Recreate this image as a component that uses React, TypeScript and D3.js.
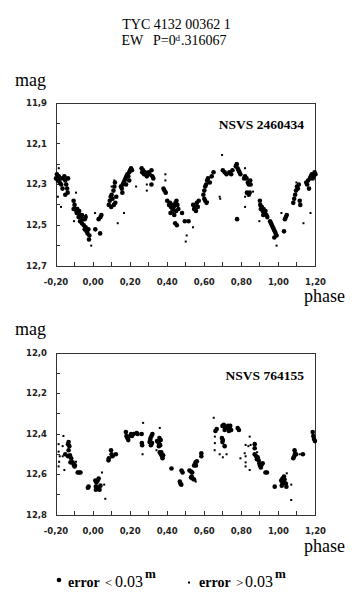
import React from "react";
import * as d3 from "d3";

// ---------- DATA ----------
const titleLine1 = "TYC 4132 00362 1";
const titleType = "EW";
const periodText = ["P=0", "d", ".316067"];
const topLabel = "NSVS 2460434";
const bottomLabel = "NSVS 764155";
const xTickLabels = [-0.2, 0, 0.2, 0.4, 0.6, 0.8, 1.0, 1.2];
const topYTickLabels = [11.9, 12.1, 12.3, 12.5, 12.7];
const bottomYTickLabels = [12.0, 12.2, 12.4, 12.6, 12.8];

// top panel, error < 0.03m  [phase, mag]
const topLarge: [number, number][] = [
  [-0.2, 12.27], [-0.195, 12.25], [-0.19, 12.28], [-0.185, 12.26], [-0.18, 12.29], [-0.175, 12.27], [-0.172, 12.3],
  [-0.16, 12.27], [-0.155, 12.26], [-0.15, 12.28], [-0.145, 12.3], [-0.14, 12.32], [-0.137, 12.34], [-0.15, 12.35], [-0.165, 12.32], [-0.135, 12.27],
  [-0.105, 12.38], [-0.1, 12.4], [-0.105, 12.42], [-0.095, 12.42], [-0.09, 12.43], [-0.085, 12.42], [-0.08, 12.44], [-0.075, 12.43], [-0.07, 12.45], [-0.078, 12.46], [-0.088, 12.44], [-0.065, 12.46],
  [-0.06, 12.45], [-0.055, 12.47], [-0.07, 12.48], [-0.06, 12.49], [-0.05, 12.5], [-0.045, 12.52], [-0.04, 12.51], [-0.035, 12.53], [-0.03, 12.54], [-0.025, 12.52], [-0.02, 12.55], [-0.022, 12.57],
  [-0.04, 12.46], [-0.045, 12.47],
  [0.012, 12.52], [0.038, 12.54],
  [0.03, 12.47], [0.04, 12.46], [0.045, 12.45],
  [0.085, 12.4], [0.09, 12.38], [0.095, 12.36], [0.1, 12.35], [0.105, 12.37], [0.11, 12.33], [0.115, 12.31], [0.118, 12.29], [0.112, 12.4], [0.12, 12.39], [0.125, 12.36], [0.098, 12.41],
  [0.15, 12.31], [0.155, 12.32], [0.16, 12.3], [0.165, 12.29], [0.17, 12.28], [0.175, 12.27], [0.18, 12.26], [0.185, 12.25], [0.19, 12.26], [0.195, 12.24], [0.2, 12.23], [0.205, 12.22], [0.21, 12.23], [0.158, 12.34], [0.178, 12.3], [0.195, 12.28],
  [0.262, 12.22], [0.27, 12.23], [0.275, 12.25], [0.265, 12.24],
  [0.28, 12.24], [0.285, 12.25], [0.29, 12.26], [0.3, 12.24], [0.305, 12.25], [0.315, 12.23], [0.32, 12.26], [0.325, 12.27], [0.315, 12.3],
  [0.38, 12.32], [0.385, 12.33], [0.392, 12.34],
  [0.4, 12.38], [0.41, 12.4], [0.415, 12.39], [0.42, 12.41], [0.425, 12.4], [0.43, 12.42], [0.435, 12.41], [0.44, 12.4], [0.445, 12.39], [0.45, 12.38], [0.455, 12.4], [0.46, 12.42], [0.418, 12.44], [0.428, 12.43], [0.438, 12.45], [0.448, 12.43],
  [0.443, 12.49], [0.452, 12.5], [0.48, 12.44], [0.495, 12.48], [0.515, 12.48],
  [0.54, 12.4], [0.545, 12.42], [0.55, 12.41], [0.555, 12.43], [0.56, 12.39], [0.565, 12.41], [0.57, 12.38],
  [0.595, 12.35], [0.6, 12.33], [0.605, 12.31], [0.61, 12.3], [0.615, 12.28], [0.62, 12.27], [0.63, 12.29], [0.64, 12.26], [0.65, 12.24], [0.6, 12.37], [0.605, 12.38], [0.612, 12.39],
  [0.7, 12.23], [0.71, 12.24], [0.72, 12.25],
  [0.735, 12.24], [0.745, 12.25], [0.752, 12.23],
  [0.77, 12.21], [0.775, 12.2], [0.78, 12.22], [0.785, 12.23], [0.79, 12.24], [0.795, 12.25],
  [0.815, 12.27], [0.82, 12.26], [0.828, 12.27], [0.835, 12.29], [0.84, 12.3], [0.848, 12.28], [0.85, 12.3],
  [0.83, 12.34], [0.84, 12.35], [0.845, 12.34],
  [0.777, 12.47],
  [0.9, 12.38], [0.902, 12.4], [0.905, 12.42], [0.91, 12.41], [0.915, 12.43], [0.92, 12.42], [0.925, 12.44], [0.93, 12.43], [0.935, 12.45], [0.918, 12.45], [0.94, 12.46],
  [0.955, 12.48], [0.96, 12.49], [0.965, 12.5], [0.97, 12.51], [0.975, 12.52], [0.98, 12.53], [0.985, 12.54], [0.978, 12.56], [0.99, 12.55],
  [1.03, 12.53], [1.04, 12.46], [1.045, 12.45], [1.035, 12.47],
  [1.08, 12.39], [1.085, 12.37], [1.09, 12.35], [1.095, 12.33], [1.1, 12.31], [1.105, 12.32], [1.11, 12.3], [1.115, 12.38], [1.118, 12.4],
  [1.15, 12.29], [1.155, 12.3], [1.16, 12.28], [1.17, 12.27], [1.175, 12.26], [1.18, 12.25], [1.185, 12.27], [1.19, 12.26], [1.195, 12.24], [1.2, 12.25], [1.165, 12.32],
];

// top panel, error > 0.03m
const topSmall: [number, number][] = [
  [-0.185, 12.22], [-0.173, 12.41], [-0.19, 12.36], [-0.092, 12.34], [-0.103, 12.48], [-0.038, 12.45], [-0.01, 12.6],
  [0.011, 12.44], [0.133, 12.49], [0.167, 12.44], [0.1, 12.31], [0.115, 12.28], [0.232, 12.31], [0.29, 12.3], [0.29, 12.33],
  [0.39, 12.25], [0.39, 12.28], [0.505, 12.55], [0.5, 12.58], [0.539, 12.51], [0.62, 12.385], [0.683, 12.36], [0.686, 12.37],
  [0.696, 12.155], [0.82, 12.22], [0.82, 12.36], [0.82, 12.41], [0.863, 12.335], [0.897, 12.48], [1.016, 12.44], [0.99, 12.6],
  [1.097, 12.29], [1.135, 12.49], [1.173, 12.44],
];

// bottom panel, error < 0.03m
const bottomLarge: [number, number][] = [
  [-0.132, 12.44], [-0.135, 12.45], [-0.128, 12.46], [-0.132, 12.48],
  [-0.15, 12.5], [-0.135, 12.51], [-0.125, 12.505], [-0.118, 12.52], [-0.122, 12.54],
  [-0.11, 12.54], [-0.105, 12.55], [-0.1, 12.56], [-0.098, 12.555],
  [-0.083, 12.59], [-0.075, 12.59], [-0.068, 12.59],
  [-0.028, 12.665], [-0.024, 12.66],
  [0.012, 12.63], [0.018, 12.64], [0.025, 12.63], [0.03, 12.62], [0.015, 12.66], [0.022, 12.67], [0.03, 12.665], [0.015, 12.675], [0.035, 12.675], [0.04, 12.655],
  [0.085, 12.52], [0.083, 12.53], [0.097, 12.48], [0.1, 12.5], [0.105, 12.51], [0.123, 12.5],
  [0.177, 12.39], [0.18, 12.41], [0.185, 12.42], [0.19, 12.43], [0.2, 12.41], [0.205, 12.4], [0.21, 12.41], [0.218, 12.4], [0.235, 12.395], [0.24, 12.4],
  [0.262, 12.4], [0.263, 12.445], [0.265, 12.455],
  [0.305, 12.44], [0.31, 12.42], [0.315, 12.41], [0.32, 12.4], [0.308, 12.43], [0.318, 12.445], [0.312, 12.455],
  [0.345, 12.435], [0.352, 12.44], [0.357, 12.45], [0.362, 12.455], [0.355, 12.46], [0.365, 12.43], [0.358, 12.42],
  [0.36, 12.49], [0.366, 12.5], [0.372, 12.51], [0.375, 12.52], [0.368, 12.49], [0.378, 12.505],
  [0.423, 12.57],
  [0.477, 12.58], [0.483, 12.59], [0.468, 12.635], [0.471, 12.645], [0.476, 12.65],
  [0.52, 12.58], [0.528, 12.585], [0.535, 12.59], [0.532, 12.61], [0.528, 12.615], [0.537, 12.62], [0.545, 12.625],
  [0.545, 12.555], [0.553, 12.54], [0.56, 12.535], [0.555, 12.555],
  [0.584, 12.495], [0.584, 12.51],
  [0.66, 12.385], [0.667, 12.375],
  [0.698, 12.36], [0.705, 12.355], [0.712, 12.365], [0.71, 12.38], [0.72, 12.37], [0.728, 12.36], [0.735, 12.375], [0.74, 12.36], [0.745, 12.38], [0.733, 12.385],
  [0.695, 12.42], [0.7, 12.43], [0.698, 12.44], [0.71, 12.46],
  [0.78, 12.37], [0.787, 12.38],
  [0.872, 12.45], [0.872, 12.47],
  [0.872, 12.5], [0.88, 12.51], [0.888, 12.515], [0.884, 12.525], [0.893, 12.53], [0.897, 12.545], [0.9, 12.555], [0.905, 12.565], [0.91, 12.55], [0.915, 12.545],
  [0.93, 12.59], [0.938, 12.59],
  [0.98, 12.66],
  [1.015, 12.63], [1.022, 12.62], [1.03, 12.61], [1.033, 12.625], [1.022, 12.645], [1.04, 12.645], [1.018, 12.655], [1.043, 12.66], [1.03, 12.64],
  [1.087, 12.48], [1.09, 12.495], [1.085, 12.51], [1.08, 12.52], [1.095, 12.5],
  [1.132, 12.5],
  [1.185, 12.39], [1.188, 12.41], [1.192, 12.425], [1.197, 12.435],
];

// bottom panel, error > 0.03m
const bottomSmall: [number, number][] = [
  [-0.16, 12.41], [-0.186, 12.45], [-0.186, 12.487], [-0.164, 12.46], [-0.18, 12.51], [-0.183, 12.537], [-0.186, 12.56], [-0.155, 12.578], [-0.164, 12.51], [-0.092, 12.537],
  [0.048, 12.59], [0.06, 12.65], [0.066, 12.72],
  [0.27, 12.345], [0.267, 12.5],
  [0.36, 12.37], [0.342, 12.48],
  [0.554, 12.635],
  [0.651, 12.32], [0.657, 12.413], [0.657, 12.445], [0.656, 12.48],
  [0.683, 12.5], [0.7, 12.515], [0.72, 12.5],
  [0.845, 12.413], [0.823, 12.454], [0.838, 12.46], [0.85, 12.454], [0.818, 12.495], [0.795, 12.52], [0.823, 12.51], [0.823, 12.54], [0.823, 12.56], [0.845, 12.578],
  [0.885, 12.49], [0.885, 12.51],
  [1.045, 12.594], [1.069, 12.65], [1.069, 12.726],
  [1.115, 12.5],
];

// ---------- LAYOUT ----------
const W = 357;
const H = 594;
const serif = "'Liberation Serif', 'Times New Roman', serif";
const sans = "'DejaVu Sans', Verdana, sans-serif";

type PanelProps = {
  top: number;
  bottom: number;
  domain: [number, number];
  yLabels: number[];
  large: [number, number][];
  small: [number, number][];
  label: string;
  labelY: number;
  magY: number;
  phaseY: number;
};

function Panel(p: PanelProps) {
  const left = 56;
  const right = 315.5;
  const x = d3.scaleLinear().domain([-0.2, 1.2]).range([left, right]);
  const y = d3.scaleLinear().domain(p.domain).range([p.top, p.bottom]);
  const xTicks = d3.range(-2, 13).map((i) => i / 10);
  const nY = Math.round((p.domain[1] - p.domain[0]) * 10);
  const yTicks = d3.range(0, nY + 1).map((i) => p.domain[0] + i / 10);
  const fx = (v: number) => d3.format(".2f")(v).replace(".", ",").replace("−", "-");
  const fy = (v: number) => d3.format(".1f")(v).replace(".", ",");
  const axisColor = "#333";
  return (
    <g>
      <text x={15} y={p.magY} fontFamily={serif} fontSize={18} fill="#000">mag</text>
      <rect x={left} y={p.top} width={right - left} height={p.bottom - p.top} fill="none" stroke={axisColor} strokeWidth={1} shapeRendering="crispEdges" />
      {xTicks.map((t, i) => (
        <line key={"xt" + i} x1={x(t)} x2={x(t)} y1={p.bottom} y2={p.bottom - 4} stroke={axisColor} shapeRendering="crispEdges" />
      ))}
      {yTicks.map((t, i) => (
        <line key={"yt" + i} x1={left} x2={left + 4} y1={y(t)} y2={y(t)} stroke={axisColor} shapeRendering="crispEdges" />
      ))}
      {xTickLabels.map((t, i) => (
        <text key={"xl" + i} x={x(t)} y={p.bottom + 19} textAnchor="middle" fontFamily={sans} fontWeight="bold" fontSize={8.5} fill="#222">{fx(t)}</text>
      ))}
      {p.yLabels.map((t, i) => (
        <text key={"yl" + i} x={47} y={y(t)} dy="0.33em" textAnchor="end" fontFamily={sans} fontWeight="bold" fontSize={8.5} fill="#222">{fy(t)}</text>
      ))}
      <text x={304} y={p.phaseY} fontFamily={serif} fontSize={18} fill="#000">phase</text>
      <text x={304} y={p.labelY} textAnchor="end" fontFamily={serif} fontWeight="bold" fontSize={13.5} fill="#000">{p.label}</text>
      {p.large.map((d, i) => (
        <circle key={"L" + i} cx={x(d[0])} cy={y(d[1])} r={2.3} fill="#000" />
      ))}
      {p.small.map((d, i) => (
        <rect key={"S" + i} x={x(d[0]) - 1} y={y(d[1]) - 1} width={2} height={2} fill="#000" />
      ))}
    </g>
  );
}

export default function App() {
  return (
    <svg width={W} height={H} viewBox={`0 0 ${W} ${H}`} style={{ position: "absolute", left: 0, top: 0, display: "block", background: "#fff" }}>
      <rect x={0} y={0} width={W} height={H} fill="#fff" />
      <text x={176.5} y={29} textAnchor="middle" fontFamily={serif} fontSize={14} fill="#000">{titleLine1}</text>
      <text y={45} fontFamily={serif} fontSize={14} fill="#000">
        <tspan x={121.5}>{titleType}</tspan>
        <tspan x={153}>{periodText[0]}</tspan>
        <tspan x={175.5} y={41} fontSize={9}>{periodText[1]}</tspan>
        <tspan x={181} y={45}>{periodText[2]}</tspan>
      </text>
      <Panel top={103} bottom={266} domain={[11.9, 12.7]} yLabels={topYTickLabels} large={topLarge} small={topSmall} label={topLabel} labelY={129} magY={86} phaseY={302} />
      <Panel top={353} bottom={515} domain={[12.0, 12.8]} yLabels={bottomYTickLabels} large={bottomLarge} small={bottomSmall} label={bottomLabel} labelY={380} magY={335} phaseY={552} />
      {/* legend */}
      <circle cx={59} cy={580} r={2.3} fill="#000" />
      <text y={587} fontFamily={serif} fill="#000">
        <tspan x={68} fontWeight="bold" fontSize={14}>error</tspan>
        <tspan x={105} fontSize={13}>{"<"}</tspan>
        <tspan x={115} fontSize={16}>0.03</tspan>
        <tspan x={145} y={578} fontWeight="bold" fontSize={13}>m</tspan>
      </text>
      <rect x={188} y={581.5} width={2} height={2} fill="#000" />
      <text y={587} fontFamily={serif} fill="#000">
        <tspan x={199} fontWeight="bold" fontSize={14}>error</tspan>
        <tspan x={236} fontSize={13}>{">"}</tspan>
        <tspan x={245} fontSize={16}>0.03</tspan>
        <tspan x={275} y={578} fontWeight="bold" fontSize={13}>m</tspan>
      </text>
    </svg>
  );
}
